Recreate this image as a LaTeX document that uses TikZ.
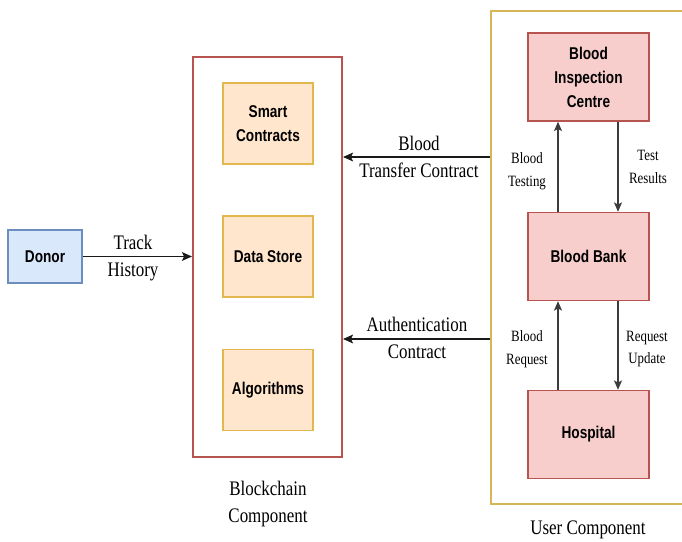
\documentclass[tikz,border=0pt]{standalone}
\usepackage{fontspec}
\newfontfamily\nodefont[FakeStretch=0.8]{Liberation Sans}
\newfontfamily\lblfont[FakeStretch=0.82]{Liberation Serif}
\usetikzlibrary{arrows.meta,calc}
\definecolor{bluefill}{HTML}{DAE8FC}
\definecolor{bluedraw}{HTML}{6C8EBF}
\definecolor{orgfill}{HTML}{FFE6CC}
\definecolor{orgdraw}{HTML}{E2B84E}
\definecolor{redfill}{HTML}{F8CECC}
\definecolor{reddraw}{HTML}{B85450}
\definecolor{golddraw}{HTML}{D6B656}
\definecolor{arrowdark}{HTML}{1A1A1A}
\definecolor{arrowgray}{HTML}{3C3C3C}
\tikzset{
  nodetext/.style={font=\nodefont\bfseries\fontsize{12.8}{18}\selectfont, align=center, text=black, inner sep=0pt},
  donorbox/.style={nodetext, draw=bluedraw, fill=bluefill, line width=1.1pt, minimum width=55.5pt, minimum height=39.75pt},
  orgbox/.style={nodetext, draw=orgdraw, fill=orgfill, line width=1.1pt, minimum width=67.5pt, minimum height=60.75pt},
  redbox/.style={nodetext, draw=reddraw, fill=redfill, line width=1.1pt, minimum width=90.75pt, minimum height=66pt},
  bigbox/.style={draw=reddraw, fill=white, line width=1.5pt, inner sep=0pt},
  userbox/.style={draw=golddraw, fill=white, line width=1.8pt, inner sep=0pt},
  mainlbl/.style={font=\lblfont\fontsize{15.5}{20}\selectfont, align=center, inner sep=0pt},
  smalllbl/.style={font=\lblfont\fontsize{11.8}{17}\selectfont, align=center, inner sep=0pt},
  mainarrow/.style={draw=arrowdark, line width=1.4pt, -{Stealth[length=7.5pt,width=6.5pt,inset=1.5pt]}},
  userarrow/.style={draw=arrowgray, line width=1pt, -{Stealth[length=7pt,width=6pt,inset=1.5pt]}}
}
\begin{document}
\begin{tikzpicture}[x=0.75pt,y=-0.75pt]
\useasboundingbox (0,0) rectangle (682,542);
% containers
\node[bigbox, minimum width=111.75pt, minimum height=300pt] (bc) at (267.5,257) {};
\node[userbox, minimum width=146.25pt, minimum height=369.75pt] (user) at (588.5,257.5) {};
% blockchain inner boxes
\node[orgbox] (sc) at (268,123.5) {Smart\\Contracts};
\node[orgbox] (ds) at (268,256.5) {Data Store};
\node[orgbox] (alg) at (268,390) {Algorithms};
% donor
\node[donorbox] (donor) at (45,256.5) {Donor};
% user boxes
\node[redbox] (bic) at (588.5,77) {Blood\\Inspection\\Centre};
\node[redbox] (bb) at (588.5,256.5) {Blood Bank};
\node[redbox] (hosp) at (588.5,434.5) {Hospital};
% connectors
\draw[mainarrow] (donor.east) -- (bc.west |- donor.east);
\coordinate (t1) at (491,157);
\coordinate (t2) at (491,339);
\draw[mainarrow] (user.west |- t1) -- (bc.east |- t1);
\draw[mainarrow] (user.west |- t2) -- (bc.east |- t2);
\draw[userarrow] ($(bb.north)+(-30.5,0)$) -- ($(bic.south)+(-30.5,0)$);
\draw[userarrow] ($(bic.south)+(29.5,0)$) -- ($(bb.north)+(29.5,0)$);
\draw[userarrow] ($(hosp.north)+(-30.5,0)$) -- ($(bb.south)+(-30.5,0)$);
\draw[userarrow] ($(bb.south)+(29.5,0)$) -- ($(hosp.north)+(29.5,0)$);
% labels
\node[mainlbl] (lth) at (133,258) {Track\\History};
\node[mainlbl] (lbt) at (419,157) {Blood\\Transfer Contract};
\node[mainlbl] (lac) at (417,338) {Authentication\\Contract};
\node[smalllbl] (lbtest) at (527,171) {Blood\\Testing};
\node[smalllbl] (ltr) at (648,167) {Test\\Results};
\node[smalllbl] (lbr) at (527,349) {Blood\\Request};
\node[smalllbl] (lru) at (647,349) {Request\\Update};
\node[mainlbl] (lbcc) at (268,504) {Blockchain\\Component};
\node[mainlbl] (luc) at (588,530) {User Component};
\end{tikzpicture}
\end{document}
